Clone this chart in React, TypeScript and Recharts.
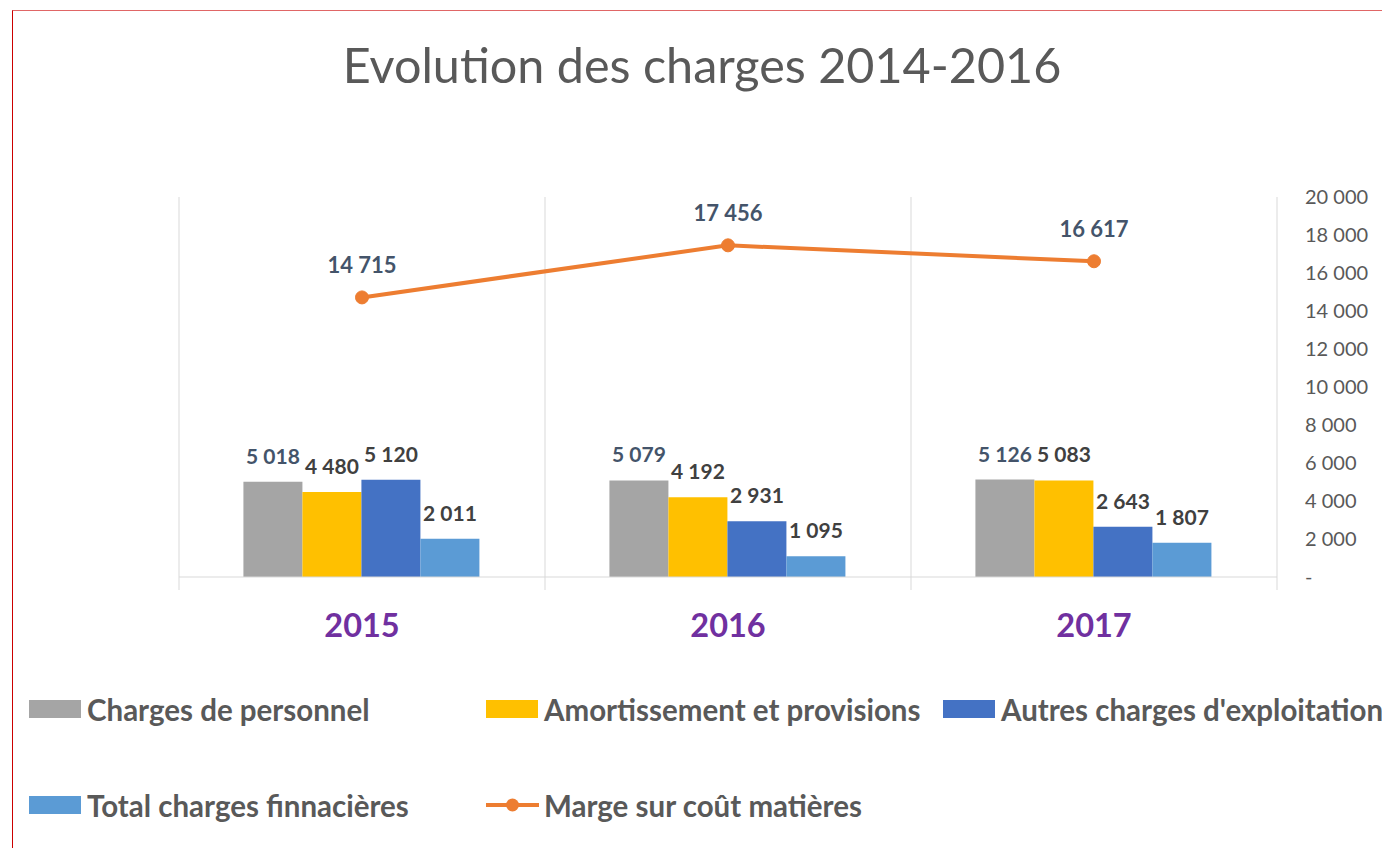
import { ComposedChart, Bar, Line, XAxis, YAxis, CartesianGrid, LabelList } from "recharts";

const YEARS = ["2015", "2016", "2017"];
const PERSONNEL = [5018, 5079, 5126];
const AMORTISSEMENT = [4480, 4192, 5083];
const AUTRES = [5120, 2931, 2643];
const FINANCIERES = [2011, 1095, 1807];
const MARGE = [14715, 17456, 16617];
const Y_TICKS = [0, 2000, 4000, 6000, 8000, 10000, 12000, 14000, 16000, 18000, 20000];

const BARS = [
  { key: "personnel", name: "Charges de personnel", color: "#A5A5A5", label: "#44546A" },
  { key: "amortissement", name: "Amortissement et provisions", color: "#FFC000", label: "#404040" },
  { key: "autres", name: "Autres charges d'exploitation", color: "#4472C4", label: "#404040" },
  { key: "financieres", name: "Total charges finnacières", color: "#5B9BD5", label: "#404040" },
];
const LINE = { key: "marge", name: "Marge sur coût matières", color: "#ED7D31" };

const data = YEARS.map((year, i) => ({
  year,
  personnel: PERSONNEL[i],
  amortissement: AMORTISSEMENT[i],
  autres: AUTRES[i],
  financieres: FINANCIERES[i],
  marge: MARGE[i],
}));

const FONT = "Lato, 'Open Sans', sans-serif";
const fmt = (v: number) => (v === 0 ? "-" : String(v).replace(/\B(?=(\d{3})+(?!\d))/g, " "));

const W = 1382;
const H = 680;
const MARGIN = { top: 189, right: 33, left: 171, bottom: 41 };
const Y_W = 80;
const X_H = 70;
const PLOT_W = W - MARGIN.left - MARGIN.right - Y_W;
const BAND = PLOT_W / YEARS.length;
const AXIS_Y = H - MARGIN.bottom - X_H;

const YearTick = (props: any) => {
  const { x, payload, index } = props;
  const left = x - BAND / 2;
  return (
    <g>
      <line x1={left} x2={left} y1={AXIS_Y} y2={AXIS_Y + 13} stroke="#D9D9D9" />
      {index === YEARS.length - 1 && <line x1={left + BAND} x2={left + BAND} y1={AXIS_Y} y2={AXIS_Y + 13} stroke="#D9D9D9" />}
      <text x={x} y={AXIS_Y + 52} textAnchor="middle" dominantBaseline="middle" fill="#7030A0" fontSize={32.5} fontWeight={700} fontFamily={FONT}>
        {payload.value}
      </text>
    </g>
  );
};

const legendRows = [
  [...BARS.slice(0, 3).map((b) => ({ ...b, line: false }))],
  [{ ...BARS[3], line: false }, { ...LINE, label: "", line: true }],
];

const App = () => (
  <div style={{ position: "relative", width: W, height: 840, overflow: "hidden", background: "#fff", fontFamily: FONT }}>
    <div style={{ position: "absolute", left: 4, top: 2, width: 2000, height: 2000, borderLeft: "1px solid #CC0000", borderTop: "1px solid #E06666" }} />
    <div style={{ position: "absolute", left: 0, top: 29, width: 1388, textAlign: "center", fontSize: 48.5, lineHeight: "54px", color: "#595959" }}>
      Evolution des charges 2014-2016
    </div>
    <div style={{ position: "absolute", left: 0, top: 0 }}>
      <ComposedChart width={W} height={H} data={data} margin={MARGIN} barGap={0} barCategoryGap="17.6%">
        <CartesianGrid
          horizontal={false}
          stroke="#D9D9D9"
          verticalCoordinatesGenerator={({ offset }: any) =>
            YEARS.map((_, i) => offset.left + (offset.width * i) / YEARS.length).concat(offset.left + offset.width)
          }
        />
        <XAxis dataKey="year" stroke="#D9D9D9" tickLine={false} tick={<YearTick />} height={X_H} interval={0} />
        <YAxis
          orientation="right"
          domain={[0, 20000]}
          ticks={Y_TICKS}
          width={Y_W}
          axisLine={false}
          tickLine={false}
          tickSize={0}
          tickMargin={28}
          tickFormatter={fmt}
          tick={{ fill: "#595959", fontSize: 20, fontFamily: FONT }}
        />
        {BARS.map((b) => (
          <Bar key={b.key} dataKey={b.key} name={b.name} fill={b.color} isAnimationActive={false}>
            <LabelList dataKey={b.key} position="top" offset={18} formatter={fmt as any} fill={b.label} fontSize={21} fontWeight={700} fontFamily={FONT} />
          </Bar>
        ))}
        <Line
          dataKey={LINE.key}
          name={LINE.name}
          stroke={LINE.color}
          strokeWidth={4}
          dot={{ r: 6.5, fill: LINE.color, stroke: LINE.color, strokeWidth: 1 }}
          isAnimationActive={false}
        >
          <LabelList dataKey={LINE.key} position="top" offset={24} formatter={fmt as any} fill="#44546A" fontSize={22} fontWeight={700} fontFamily={FONT} />
        </Line>
      </ComposedChart>
    </div>
    {legendRows.map((row, r) => (
      <div key={r} style={{ position: "absolute", left: 21, top: 684 + r * 96, display: "flex" }}>
        {row.map((item) => (
          <div key={item.key} style={{ width: 457, display: "flex", alignItems: "center", height: 34 }}>
            {item.line ? (
              <svg width={53} height={18} style={{ marginRight: 5 }}>
                <line x1={0} x2={53} y1={9} y2={9} stroke={item.color} strokeWidth={4} />
                <circle cx={26.5} cy={9} r={6.5} fill={item.color} />
              </svg>
            ) : (
              <div style={{ width: 52, height: 18, background: item.color, marginRight: 6 }} />
            )}
            <span style={{ fontSize: 29.5, fontWeight: 700, color: "#595959", whiteSpace: "nowrap" }}>{item.name}</span>
          </div>
        ))}
      </div>
    ))}
  </div>
);

export default App;
